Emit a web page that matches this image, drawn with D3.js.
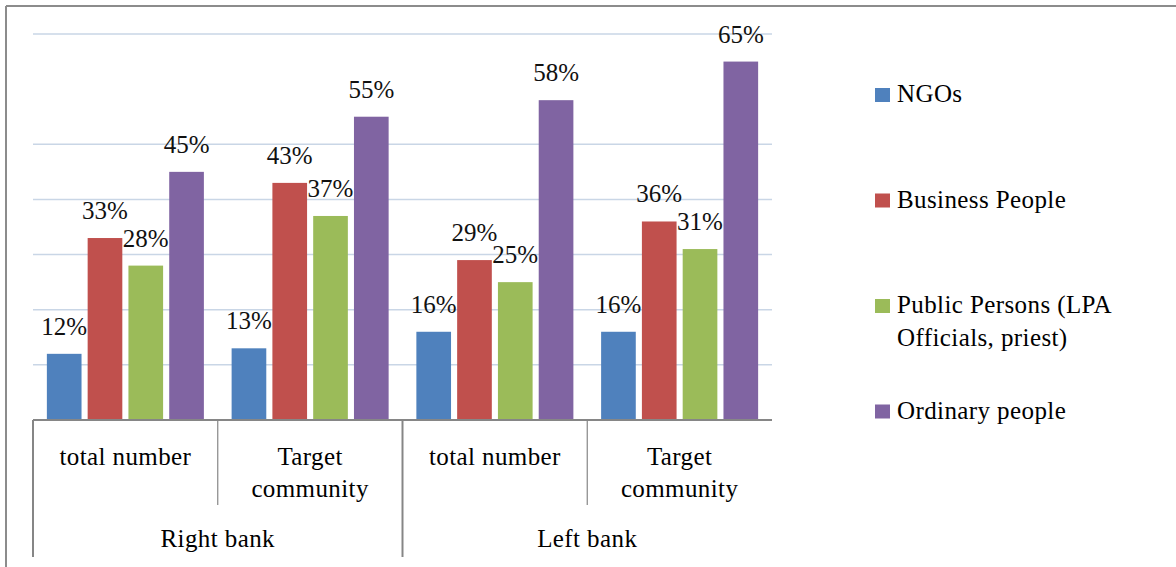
<!DOCTYPE html>
<html>
<head>
<meta charset="utf-8">
<script src="https://cdn.jsdelivr.net/npm/d3@7"></script>
<style>
  body { margin: 0; background: #fff; }
</style>
</head>
<body>
<div id="chart"></div>
<script>
// Data
var subCategories = ["total number", "Target community", "total number", "Target community"];
var subLabelLines = [["total number"], ["Target", "community"], ["total number"], ["Target", "community"]];
var groups = ["Right bank", "Left bank"];
var seriesNames = ["NGOs", "Business People", "Public Persons (LPA Officials, priest)", "Ordinary people"];
var legendLines = [["NGOs"], ["Business People"], ["Public Persons (LPA", "Officials, priest)"], ["Ordinary people"]];
var ngos = [12, 13, 16, 16];
var business = [33, 43, 29, 36];
var publicPersons = [28, 37, 25, 31];
var ordinary = [45, 55, 58, 65];
var gridValues = [10, 20, 30, 40, 50, 70];
var colors = ["#4F81BD", "#C0504D", "#9BBB59", "#8064A2"];

var seriesValues = [ngos, business, publicPersons, ordinary];
var serif = "'Liberation Serif', 'DejaVu Serif', serif";

var width = 1176, height = 567;

var svg = d3.select("#chart")
  .append("svg")
  .attr("width", width)
  .attr("height", height)
  .style("font-family", serif);

// outer frame (top and left edges visible)
svg.append("line").attr("x1", 6).attr("x2", width).attr("y1", 6).attr("y2", 6)
  .attr("stroke", "#8c8c8c").attr("stroke-width", 2);
svg.append("line").attr("x1", 6).attr("x2", 6).attr("y1", 6).attr("y2", height)
  .attr("stroke", "#8c8c8c").attr("stroke-width", 2);

var left = 33, right = 772, baseY = 420;

var x0 = d3.scaleBand()
  .domain(d3.range(subCategories.length))
  .range([left, right]);

var x1 = d3.scaleBand()
  .domain(d3.range(seriesNames.length))
  .range([0, x0.bandwidth()])
  .paddingInner(0.15)
  .paddingOuter(0.34);

var y = d3.scaleLinear()
  .domain([0, 70])
  .range([baseY, 34]);

// gridlines
svg.append("g")
  .selectAll("line")
  .data(gridValues)
  .enter()
  .append("line")
  .attr("x1", left)
  .attr("x2", right)
  .attr("y1", function(d) { return y(d); })
  .attr("y2", function(d) { return y(d); })
  .attr("stroke", "#c9d6e6")
  .attr("stroke-width", 1.5);

// bars
var cat = svg.append("g")
  .selectAll("g")
  .data(subCategories)
  .enter()
  .append("g")
  .attr("transform", function(d, i) { return "translate(" + x0(i) + ",0)"; });

cat.selectAll("rect")
  .data(function(d, i) { return seriesValues.map(function(s) { return s[i]; }); })
  .enter()
  .append("rect")
  .attr("x", function(d, j) { return x1(j); })
  .attr("width", x1.bandwidth())
  .attr("y", function(d) { return y(d); })
  .attr("height", function(d) { return baseY - y(d); })
  .attr("fill", function(d, j) { return colors[j]; });

cat.selectAll("text")
  .data(function(d, i) { return seriesValues.map(function(s) { return s[i]; }); })
  .enter()
  .append("text")
  .attr("x", function(d, j) { return x1(j) + x1.bandwidth() / 2; })
  .attr("y", function(d) { return y(d) - 19; })
  .attr("text-anchor", "middle")
  .style("font-family", serif)
  .style("font-size", "25px")
  .attr("fill", "#111")
  .text(function(d) { return d + "%"; });

// category axis
var axisColor = "#868686";
svg.append("line").attr("x1", left).attr("x2", right).attr("y1", baseY).attr("y2", baseY)
  .attr("stroke", axisColor).attr("stroke-width", 2);

// dividers between sub categories
svg.append("g").selectAll("line")
  .data(d3.range(subCategories.length + 1))
  .enter()
  .append("line")
  .attr("x1", function(i) { return i < subCategories.length ? x0(i) : right; })
  .attr("x2", function(i) { return i < subCategories.length ? x0(i) : right; })
  .attr("y1", baseY)
  .attr("y2", function(i) { return (i % 2 === 0 && i < subCategories.length) ? 557 : (i === subCategories.length ? baseY : 505); })
  .attr("stroke", axisColor)
  .attr("stroke-width", function(i) { return i % 2 === 0 ? 2 : 1.2; });

// sub category labels
var subText = svg.append("g").selectAll("text")
  .data(subLabelLines)
  .enter()
  .append("text")
  .attr("text-anchor", "middle")
  .style("font-family", serif)
  .style("font-size", "25px")
  .style("letter-spacing", "0.4px");

subText.selectAll("tspan")
  .data(function(d, i) { return d.map(function(t) { return { t: t, i: i }; }); })
  .enter()
  .append("tspan")
  .attr("x", function(d) { return x0(d.i) + x0.bandwidth() / 2; })
  .attr("y", function(d, k) { return 465 + k * 32; })
  .text(function(d) { return d.t; });

// group labels
svg.append("g").selectAll("text")
  .data(groups)
  .enter()
  .append("text")
  .attr("x", function(d, g) { return x0(g * 2) + x0.bandwidth(); })
  .attr("y", 547)
  .attr("text-anchor", "middle")
  .style("font-family", serif)
  .style("font-size", "25px")
  .style("letter-spacing", "0.4px")
  .text(function(d) { return d; });

// legend
var legend = svg.append("g").selectAll("g")
  .data(seriesNames)
  .enter()
  .append("g")
  .attr("transform", function(d, i) { return "translate(875," + (102 + i * 105.5) + ")"; });

legend.append("rect")
  .attr("x", 0)
  .attr("y", -14)
  .attr("width", 15)
  .attr("height", 14)
  .attr("fill", function(d, i) { return colors[i]; });

legend.append("text")
  .style("font-family", serif)
  .style("font-size", "25px")
  .style("letter-spacing", "0.4px")
  .selectAll("tspan")
  .data(function(d, i) { return legendLines[i]; })
  .enter()
  .append("tspan")
  .attr("x", 22)
  .attr("y", function(d, k) { return k * 33; })
  .text(function(d) { return d; });
</script>
</body>
</html>
